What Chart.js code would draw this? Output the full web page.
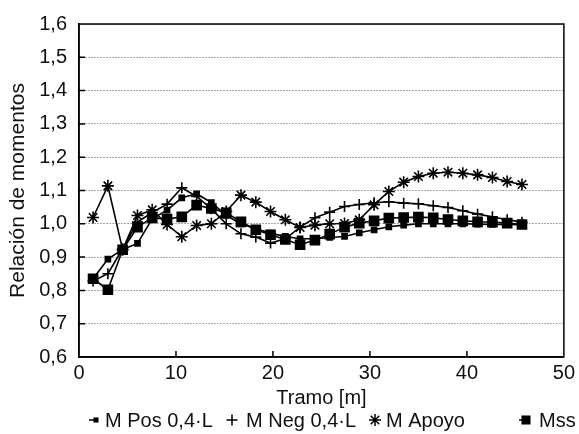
<!DOCTYPE html>
<html lang="es">
<head>
<meta charset="UTF-8">
<title>Relación de momentos</title>
<script src="https://cdn.jsdelivr.net/npm/chart.js@4"></script>
<style>
  body { margin: 0; background: #fff; }
  #chart { display: block; }
</style>
</head>
<body>
<canvas id="chart" width="579" height="434"></canvas>
<script>
// positions along the span [m]
const tramo = [1.45, 2.98, 4.50, 6.03, 7.55, 9.08, 10.60, 12.13, 13.65, 15.18,
               16.70, 18.23, 19.75, 21.28, 22.80, 24.33, 25.85, 27.38, 28.90, 30.43,
               31.95, 33.48, 35.00, 36.53, 38.05, 39.58, 41.10, 42.63, 44.15, 45.68];

const mPos = [0.835, 0.894, 0.923, 0.941, 1.015, 1.041, 1.078, 1.090, 1.064, 1.025,
              1.000, 0.985, 0.972, 0.962, 0.955, 0.955, 0.959, 0.962, 0.973, 0.982,
              0.991, 0.996, 1.000, 1.000, 1.000, 1.000, 0.999, 0.998, 0.998, 0.997];

const mNeg = [0.828, 0.850, 0.925, 1.005, 1.034, 1.059, 1.108, 1.082, 1.045, 1.000,
              0.970, 0.960, 0.942, 0.955, 0.990, 1.018, 1.035, 1.052, 1.058, 1.063,
              1.066, 1.062, 1.060, 1.054, 1.049, 1.039, 1.029, 1.021, 1.012, 1.005];

const mApoyo = [1.019, 1.114, 0.922, 1.025, 1.042, 0.998, 0.961, 0.995, 1.000, 1.037,
                1.086, 1.065, 1.037, 1.012, 0.989, 0.996, 1.000, 1.001, 1.012, 1.057,
                1.097, 1.125, 1.142, 1.152, 1.155, 1.152, 1.147, 1.139, 1.127, 1.118];

const mss = [0.835, 0.802, 0.922, 0.990, 1.018, 1.014, 1.021, 1.056, 1.046, 1.033,
             1.006, 0.982, 0.967, 0.953, 0.937, 0.951, 0.969, 0.990, 1.002, 1.009,
             1.017, 1.019, 1.020, 1.018, 1.013, 1.009, 1.006, 1.005, 1.002, 0.998];

const xTicks = [0, 10, 20, 30, 40, 50];
const yTicks = [0.6, 0.7, 0.8, 0.9, 1.0, 1.1, 1.2, 1.3, 1.4, 1.5, 1.6];

const FONT = '"Liberation Sans", Arial, sans-serif';
const toPoints = vals => vals.map((v, i) => ({ x: tramo[i], y: v }));

function drawMarker(ctx, style, r, x, y) {
    ctx.beginPath();
    if (style === 'rect') {
        const s = Math.SQRT1_2 * r;
        ctx.rect(x - s, y - s, 2 * s, 2 * s);
        ctx.fill();
        return;
    }
    ctx.moveTo(x - r, y); ctx.lineTo(x + r, y);
    ctx.moveTo(x, y - r); ctx.lineTo(x, y + r);
    if (style === 'star') {
        const d = r * Math.SQRT1_2;
        ctx.moveTo(x - d, y - d); ctx.lineTo(x + d, y + d);
        ctx.moveTo(x - d, y + d); ctx.lineTo(x + d, y - d);
    }
    ctx.stroke();
}

// box round the plot, inner tick marks and the legend row under the axis title
const framePlugin = {
    id: 'frame',
    afterDraw(chart) {
        const { ctx, chartArea: a, scales: { x, y } } = chart;
        ctx.save();
        ctx.strokeStyle = '#000';
        ctx.lineWidth = 1.5;
        ctx.strokeRect(a.left, a.top, a.right - a.left, a.bottom - a.top);
        ctx.beginPath();
        xTicks.slice(1, -1).forEach(v => {
            const px = x.getPixelForValue(v);
            ctx.moveTo(px, a.bottom); ctx.lineTo(px, a.bottom - 6);
        });
        yTicks.slice(1, -1).forEach(v => {
            const py = y.getPixelForValue(v);
            ctx.moveTo(a.left, py); ctx.lineTo(a.left + 6, py);
        });
        ctx.stroke();

        // legend
        const spots = [[96, 105], [232, 246], [375, 386], [526, 539]];
        const ly = 420;
        ctx.font = '20px ' + FONT;
        ctx.textBaseline = 'middle';
        chart.data.datasets.forEach((ds, i) => {
            const [mx, tx] = spots[i];
            ctx.strokeStyle = '#000';
            ctx.fillStyle = '#000';
            ctx.lineWidth = 1.5;
            if (ds.pointStyle === 'rect') {
                ctx.beginPath();
                ctx.moveTo(mx - 7, ly); ctx.lineTo(mx + 2, ly);
                ctx.stroke();
            }
            drawMarker(ctx, ds.pointStyle, ds.pointRadius, mx, ly);
            ctx.fillStyle = '#111';
            ctx.fillText(ds.label, tx, ly + 1);
        });
        ctx.restore();
    }
};

const common = {
    borderColor: '#000',
    backgroundColor: '#000',
    pointBackgroundColor: '#000',
    pointBorderColor: '#000',
    borderWidth: 1.6,
    pointBorderWidth: 1.6,
    pointHoverRadius: 0,
    tension: 0,
    fill: false
};

new Chart(document.getElementById('chart'), {
    type: 'line',
    data: {
        datasets: [
            { ...common, label: 'M Pos 0,4·L', data: toPoints(mPos), pointStyle: 'rect', pointRadius: 3.6 },
            { ...common, label: 'M Neg 0,4·L', data: toPoints(mNeg), pointStyle: 'cross', pointRadius: 5.5 },
            { ...common, label: 'M Apoyo', data: toPoints(mApoyo), pointStyle: 'star', pointRadius: 6 },
            { ...common, label: 'Mss', data: toPoints(mss), pointStyle: 'rect', pointRadius: 6.4 }
        ]
    },
    options: {
        responsive: false,
        animation: false,
        layout: { padding: { top: 16, right: 12, left: 0, bottom: 0 } },
        plugins: { legend: { display: false }, tooltip: { enabled: false } },
        scales: {
            x: {
                type: 'linear',
                min: 0,
                max: 50,
                afterBuildTicks: s => { s.ticks = xTicks.map(v => ({ value: v })); },
                afterFit: s => { s.height = 77; },
                grid: { display: false, drawTicks: false },
                border: { display: true, color: '#000', width: 1.5 },
                ticks: { color: '#111', padding: 4, maxRotation: 0, font: { family: FONT, size: 20 } },
                title: {
                    display: true, text: 'Tramo [m]', color: '#111',
                    font: { family: FONT, size: 20 }, padding: { top: 0, bottom: 24 }
                }
            },
            y: {
                min: 0.6,
                max: 1.6,
                afterBuildTicks: s => { s.ticks = yTicks.map(v => ({ value: v })); },
                afterFit: s => { s.width = 79; },
                grid: { color: '#555', lineWidth: 1, drawTicks: false },
                border: { display: true, color: '#000', width: 1.5, dash: [1, 2] },
                ticks: {
                    color: '#111', padding: 12, font: { family: FONT, size: 20 },
                    callback: v => v.toFixed(1).replace('.', ',')
                },
                title: {
                    display: true, text: 'Relación de momentos', color: '#111',
                    font: { family: FONT, size: 21 }, padding: { top: 6, bottom: 0 }
                }
            }
        }
    },
    plugins: [framePlugin]
});
</script>
</body>
</html>
